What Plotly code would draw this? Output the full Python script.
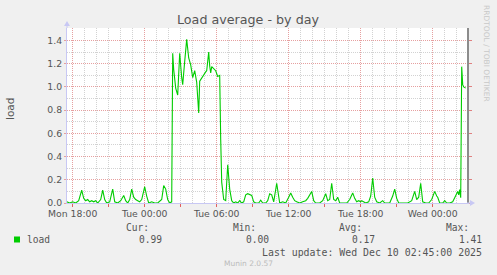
import plotly.graph_objects as go

# ---- data ----
times = [
    "2025-12-08 17:30", "2025-12-08 17:45", "2025-12-08 18:00", "2025-12-08 18:15", "2025-12-08 18:30",
    "2025-12-08 18:45", "2025-12-08 18:55", "2025-12-08 19:05", "2025-12-08 19:15", "2025-12-08 19:25",
    "2025-12-08 19:35", "2025-12-08 19:45", "2025-12-08 19:55", "2025-12-08 20:05", "2025-12-08 20:20",
    "2025-12-08 20:30", "2025-12-08 20:40", "2025-12-08 20:50", "2025-12-08 21:05", "2025-12-08 21:20",
    "2025-12-08 21:30", "2025-12-08 21:45", "2025-12-08 22:00", "2025-12-08 22:15", "2025-12-08 22:25",
    "2025-12-08 22:35", "2025-12-08 22:45", "2025-12-08 22:55", "2025-12-08 23:05", "2025-12-08 23:15",
    "2025-12-08 23:25", "2025-12-08 23:35", "2025-12-08 23:45", "2025-12-09 00:00", "2025-12-09 00:10",
    "2025-12-09 00:20", "2025-12-09 00:35", "2025-12-09 00:50", "2025-12-09 01:05", "2025-12-09 01:25",
    "2025-12-09 01:35", "2025-12-09 01:45", "2025-12-09 01:55", "2025-12-09 02:05", "2025-12-09 02:15",
    "2025-12-09 02:20", "2025-12-09 02:25", "2025-12-09 02:35", "2025-12-09 02:45", "2025-12-09 02:55",
    "2025-12-09 03:05", "2025-12-09 03:10", "2025-12-09 03:20", "2025-12-09 03:30", "2025-12-09 03:40",
    "2025-12-09 03:50", "2025-12-09 04:00", "2025-12-09 04:10", "2025-12-09 04:20", "2025-12-09 04:30",
    "2025-12-09 04:35", "2025-12-09 04:45", "2025-12-09 04:55", "2025-12-09 05:05", "2025-12-09 05:10",
    "2025-12-09 05:20", "2025-12-09 05:25", "2025-12-09 05:30", "2025-12-09 05:35", "2025-12-09 05:45",
    "2025-12-09 05:55", "2025-12-09 06:05", "2025-12-09 06:15", "2025-12-09 06:20", "2025-12-09 06:25",
    "2025-12-09 06:35", "2025-12-09 06:45", "2025-12-09 06:55", "2025-12-09 07:05", "2025-12-09 07:15",
    "2025-12-09 07:25", "2025-12-09 07:35", "2025-12-09 07:45", "2025-12-09 07:55", "2025-12-09 08:05",
    "2025-12-09 08:15", "2025-12-09 08:25", "2025-12-09 08:35", "2025-12-09 08:45", "2025-12-09 08:55",
    "2025-12-09 09:05", "2025-12-09 09:15", "2025-12-09 09:30", "2025-12-09 09:40", "2025-12-09 09:50",
    "2025-12-09 10:05", "2025-12-09 10:15", "2025-12-09 10:25", "2025-12-09 10:35", "2025-12-09 10:45",
    "2025-12-09 11:00", "2025-12-09 11:10", "2025-12-09 11:15", "2025-12-09 11:30", "2025-12-09 11:45",
    "2025-12-09 12:00", "2025-12-09 12:10", "2025-12-09 12:20", "2025-12-09 12:30", "2025-12-09 12:40",
    "2025-12-09 12:55", "2025-12-09 13:10", "2025-12-09 13:25", "2025-12-09 13:35", "2025-12-09 13:45",
    "2025-12-09 13:55", "2025-12-09 14:05", "2025-12-09 14:15", "2025-12-09 14:35", "2025-12-09 14:50",
    "2025-12-09 15:05", "2025-12-09 15:15", "2025-12-09 15:25", "2025-12-09 15:35", "2025-12-09 15:45",
    "2025-12-09 15:55", "2025-12-09 16:05", "2025-12-09 16:15", "2025-12-09 16:35", "2025-12-09 16:50",
    "2025-12-09 17:05", "2025-12-09 17:20", "2025-12-09 17:30", "2025-12-09 17:40", "2025-12-09 17:50",
    "2025-12-09 18:00", "2025-12-09 18:05", "2025-12-09 18:15", "2025-12-09 18:25", "2025-12-09 18:40",
    "2025-12-09 18:50", "2025-12-09 19:00", "2025-12-09 19:10", "2025-12-09 19:20", "2025-12-09 19:35",
    "2025-12-09 19:50", "2025-12-09 20:00", "2025-12-09 20:25", "2025-12-09 20:40", "2025-12-09 20:50",
    "2025-12-09 21:00", "2025-12-09 21:10", "2025-12-09 21:35", "2025-12-09 21:55", "2025-12-09 22:15",
    "2025-12-09 22:30", "2025-12-09 22:40", "2025-12-09 22:50", "2025-12-09 23:00", "2025-12-09 23:10",
    "2025-12-09 23:25", "2025-12-09 23:40", "2025-12-09 23:55", "2025-12-10 00:10", "2025-12-10 00:20",
    "2025-12-10 00:25", "2025-12-10 00:35", "2025-12-10 00:50", "2025-12-10 01:00", "2025-12-10 01:10",
    "2025-12-10 01:25", "2025-12-10 01:40", "2025-12-10 01:50", "2025-12-10 02:00", "2025-12-10 02:05",
    "2025-12-10 02:10", "2025-12-10 02:15", "2025-12-10 02:20", "2025-12-10 02:25", "2025-12-10 02:30",
    "2025-12-10 02:35", "2025-12-10 02:45",
]
load = [
    0.01, 0.00, 0.01, 0.00, 0.02,
    0.11, 0.04, 0.02, 0.03, 0.01,
    0.02, 0.01, 0.02, 0.00, 0.03,
    0.11, 0.03, 0.00, 0.01, 0.12,
    0.01, 0.00, 0.02, 0.065, 0.02,
    0.00, 0.03, 0.12, 0.05, 0.03,
    0.02, 0.01, 0.03, 0.14, 0.06,
    0.00, 0.01, 0.00, 0.00, 0.03,
    0.15, 0.12, 0.03, 0.00, 0.01,
    1.29, 1.15, 0.99, 0.93, 1.29,
    1.08, 1.02, 1.22, 1.41, 1.25,
    1.19, 1.08, 1.14, 1.04, 0.775,
    1.05, 1.08, 1.10, 1.13, 1.14,
    1.30, 1.18, 1.12, 1.175, 1.16,
    1.14, 1.09, 1.10, 0.55, 0.18,
    0.03, 0.02, 0.33, 0.12, 0.02,
    0.00, 0.01, 0.00, 0.02, 0.00,
    0.01, 0.07, 0.08, 0.07, 0.065,
    0.01, 0.00, 0.00, 0.025, 0.00,
    0.00, 0.02, 0.08, 0.07, 0.01,
    0.17, 0.02, 0.00, 0.01, 0.00,
    0.05, 0.087, 0.05, 0.02, 0.01,
    0.00, 0.01, 0.02, 0.04, 0.07,
    0.10, 0.02, 0.00, 0.00, 0.02,
    0.08, 0.02, 0.03, 0.17, 0.03,
    0.02, 0.05, 0.00, 0.00, 0.00,
    0.03, 0.087, 0.04, 0.01, 0.02,
    0.01, 0.02, 0.01, 0.00, 0.01,
    0.06, 0.215, 0.05, 0.01, 0.00,
    0.02, 0.00, 0.00, 0.06, 0.12,
    0.04, 0.00, 0.00, 0.00, 0.02,
    0.10, 0.03, 0.05, 0.17, 0.01,
    0.00, 0.00, 0.03, 0.10, 0.06,
    0.05, 0.00, 0.00, 0.02, 0.00,
    0.00, 0.01, 0.045, 0.08, 0.10,
    0.07, 0.115, 0.045, 1.175, 1.02,
    1.00, 0.99,
]

series_name = "load"
stat_labels = ["Cur:", "Min:", "Avg:", "Max:"]
stat_values = ["0.99", "0.00", "0.17", "1.41"]
title_text = "Load average - by day"
y_label = "load"
last_update = "Last update: Wed Dec 10 02:45:00 2025"
footer = "Munin 2.0.57"
watermark = "RRDTOOL / TOBI OETIKER"

x_range = ["2025-12-08 17:31:30", "2025-12-10 02:51:30"]
y_range = [0, 1.508]

# ---- layout geometry (pixels) ----
W, H = 497, 275
L, R, T, B = 67, 467, 28, 203


def px(x):
    return (x - L) / (R - L)


def py(y):
    return (B - y) / (B - T)


GREEN = "#00CC00"
TXT = "#555555"
MAJ = "#E6A0A0"
MIN = "#D2D2D2"
AXIS = "#C8C8F4"

fig = go.Figure()
fig.add_trace(go.Scatter(x=times, y=load, mode="lines",
                         line=dict(color=GREEN, width=1.1),
                         hoverinfo="skip", showlegend=False))
fig.add_trace(go.Scatter(x=[], y=[], xaxis="x2", yaxis="y2",
                         showlegend=False, hoverinfo="skip"))

fig.update_layout(
    width=W, height=H,
    margin=dict(l=L, r=W - R, t=T, b=H - B),
    paper_bgcolor="#F0F0F0", plot_bgcolor="#FFFFFF",
    font=dict(family="DejaVu Sans", size=9.3, color=TXT),
    xaxis=dict(
        type="date", range=x_range, tick0="2025-12-08 00:00", dtick=6 * 3600000,
        tickformat="%a %H:%M", showgrid=True, gridcolor=MAJ, griddash="1px,1px",
        gridwidth=1,
        minor=dict(dtick=3600000, tick0="2025-12-08 00:00", showgrid=True,
                   gridcolor=MIN, griddash="1px,1px", gridwidth=1),
        showline=True, linecolor=AXIS, linewidth=1, ticks="", zeroline=False,
        fixedrange=True, tickfont=dict(size=9.3, color=TXT),
        ticklabelstandoff=2,
    ),
    yaxis=dict(
        range=y_range, dtick=0.2, tick0=0, tickformat=".1f",
        showgrid=True, gridcolor=MAJ, griddash="1px,1px", gridwidth=1,
        minor=dict(dtick=0.1, tick0=0, showgrid=True, gridcolor=MIN,
                   griddash="1px,1px", gridwidth=1),
        showline=True, linecolor=AXIS, linewidth=1, ticks="outside",
        ticklen=2, tickcolor=MAJ, zeroline=False, fixedrange=True,
        tickfont=dict(size=9.3, color=TXT),
    ),
    xaxis2=dict(
        type="date", range=x_range, overlaying="x", side="bottom",
        tick0="2025-12-08 00:00", dtick=3 * 3600000, ticks="outside",
        ticklen=3, tickcolor="#E06060", showticklabels=False, showgrid=False,
        showline=False, zeroline=False, fixedrange=True,
    ),
    yaxis2=dict(
        range=y_range, overlaying="y", side="right", dtick=0.2, tick0=0,
        ticks="outside", ticklen=3, tickcolor="#E08080", showticklabels=False,
        showgrid=False, showline=True, linecolor="#8C8C8C", linewidth=1.5,
        zeroline=False, fixedrange=True,
    ),
)

shapes = []
# axis arrows (decoration)
shapes.append(dict(type="line", xref="paper", yref="paper", x0=px(467), x1=px(471),
                   y0=0, y1=0, line=dict(color=AXIS, width=1)))
shapes.append(dict(type="path", xref="paper", yref="paper",
                   path=f"M {px(470)},{py(200)} L {px(475)},{py(203)} L {px(470)},{py(206)} Z",
                   fillcolor=AXIS, line=dict(color=AXIS, width=0)))
shapes.append(dict(type="line", xref="paper", yref="paper", x0=0, x1=0,
                   y0=1, y1=py(25), line=dict(color=AXIS, width=1)))
shapes.append(dict(type="path", xref="paper", yref="paper",
                   path=f"M {px(64)},{py(26)} L {px(67)},{py(21)} L {px(70)},{py(26)} Z",
                   fillcolor=AXIS, line=dict(color=AXIS, width=0)))
# legend swatch
shapes.append(dict(type="rect", xref="paper", yref="paper",
                   x0=px(14), x1=px(20), y0=py(242.5), y1=py(236.5),
                   fillcolor=GREEN, line=dict(color=GREEN, width=0)))
fig.update_layout(shapes=shapes)

MONO = "DejaVu Sans Mono"
ann = []
ann.append(dict(text=title_text, x=px(248), y=py(19), xref="paper", yref="paper",
                showarrow=False, xanchor="center", yanchor="middle",
                font=dict(family="DejaVu Sans", size=12.7, color=TXT)))
ann.append(dict(text=y_label, x=px(10), y=py(109), xref="paper", yref="paper",
                showarrow=False, textangle=-90, xanchor="center", yanchor="middle",
                font=dict(family="DejaVu Sans", size=10.5, color=TXT)))
ann.append(dict(text=watermark, x=px(487), y=py(53), xref="paper", yref="paper",
                showarrow=False, textangle=90, xanchor="center", yanchor="middle",
                font=dict(family="DejaVu Sans", size=7.5, color="#C8C8C8")))
ann.append(dict(text=series_name, x=px(26), y=py(239.5), xref="paper", yref="paper",
                showarrow=False, xanchor="left", yanchor="middle",
                font=dict(family=MONO, size=9.6, color=TXT)))
head_right = [150, 257, 363, 470]
val_right = [163, 270, 376, 483]
for lab, hx in zip(stat_labels, head_right):
    ann.append(dict(text=lab, x=px(hx), y=py(227), xref="paper", yref="paper",
                    showarrow=False, xanchor="right", yanchor="middle",
                    font=dict(family=MONO, size=9.6, color=TXT)))
for val, vx in zip(stat_values, val_right):
    ann.append(dict(text=val, x=px(vx), y=py(239.5), xref="paper", yref="paper",
                    showarrow=False, xanchor="right", yanchor="middle",
                    font=dict(family=MONO, size=9.6, color=TXT)))
ann.append(dict(text=last_update, x=px(483), y=py(252), xref="paper", yref="paper",
                showarrow=False, xanchor="right", yanchor="middle",
                font=dict(family=MONO, size=9.9, color=TXT)))
ann.append(dict(text=footer, x=px(248), y=py(263.5), xref="paper", yref="paper",
                showarrow=False, xanchor="center", yanchor="middle",
                font=dict(family="DejaVu Sans", size=7.5, color="#BBBBBB")))
for a in ann:
    a["borderpad"] = 0
fig.update_layout(annotations=ann)

fig.write_html("out.html", config=dict(displayModeBar=False, staticPlot=True))
